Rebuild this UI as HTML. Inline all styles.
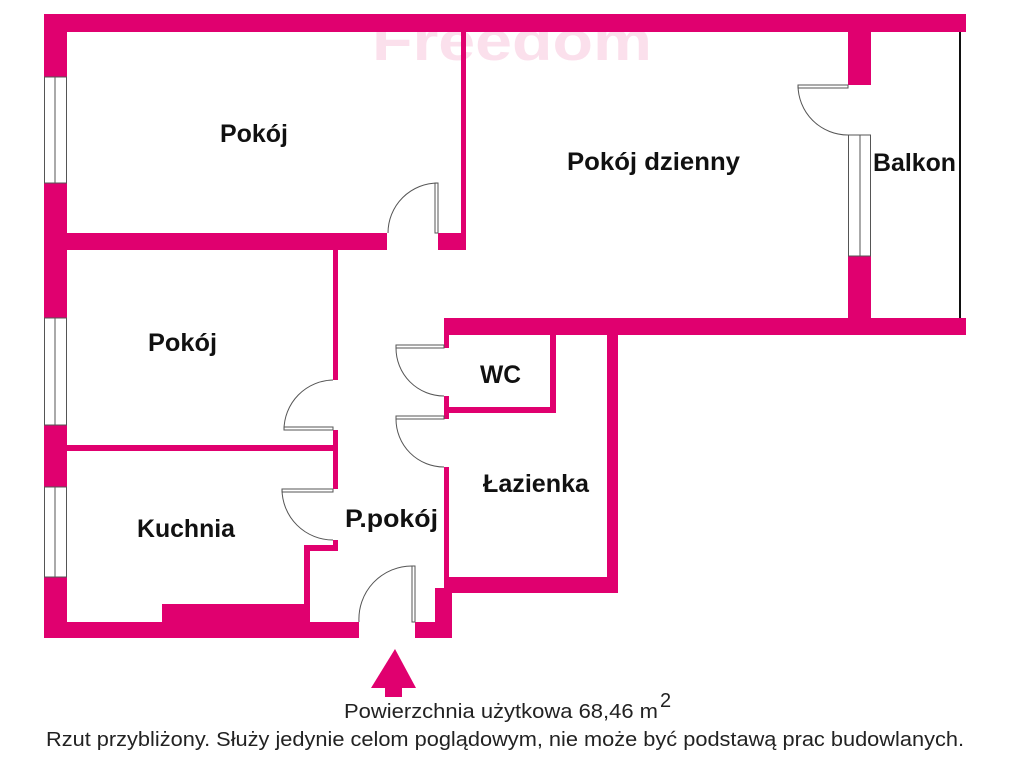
<!DOCTYPE html>
<html><head><meta charset="utf-8"><style>
html,body{margin:0;padding:0;background:#fff;}
svg{display:block;}
.l{font-family:"Liberation Sans",sans-serif;font-weight:bold;font-size:25px;fill:#111;}
.f{font-family:"Liberation Sans",sans-serif;font-size:20px;fill:#222;}
</style></head><body>
<svg width="1024" height="768" viewBox="0 0 1024 768" xmlns="http://www.w3.org/2000/svg">
<text x="372" y="60" textLength="280" lengthAdjust="spacingAndGlyphs" font-family="Liberation Sans,sans-serif" font-weight="bold" font-size="56" fill="#fbe0ec">Freedom</text>
<g fill="#e0006f">
<rect x="44" y="14" width="922" height="18"/>
<rect x="44" y="14" width="23" height="63"/>
<rect x="44" y="183" width="23" height="135"/>
<rect x="44" y="425" width="23" height="62"/>
<rect x="44" y="577" width="23" height="61"/>
<rect x="67" y="233" width="320" height="17"/>
<rect x="438" y="233" width="27" height="17"/>
<rect x="461" y="32" width="5" height="218"/>
<rect x="333" y="250" width="5" height="130"/>
<rect x="333" y="430" width="5" height="59"/>
<rect x="67" y="445" width="266" height="6"/>
<rect x="333" y="540" width="5" height="10"/>
<rect x="304" y="545" width="34" height="6"/>
<rect x="304" y="545" width="6" height="77"/>
<rect x="162" y="604" width="145" height="18"/>
<rect x="44" y="622" width="315" height="16"/>
<rect x="415" y="622" width="37" height="16"/>
<rect x="435" y="588" width="17" height="50"/>
<rect x="444" y="318" width="5" height="30"/>
<rect x="444" y="396" width="5" height="23"/>
<rect x="444" y="467" width="5" height="126"/>
<rect x="444" y="318" width="522" height="17"/>
<rect x="550" y="335" width="6" height="78"/>
<rect x="449" y="407" width="107" height="6"/>
<rect x="607" y="335" width="11" height="258"/>
<rect x="449" y="577" width="169" height="16"/>
<rect x="848" y="32" width="23" height="53"/>
<rect x="848" y="256" width="23" height="62"/>
<polygon points="395,649 371,688 416,688"/>
<rect x="385" y="686" width="17" height="11"/>
</g>
<g fill="none" stroke="#555" stroke-width="1">
<rect x="44.5" y="77" width="22" height="106"/><line x1="55" y1="77" x2="55" y2="183"/>
<rect x="44.5" y="318" width="22" height="107"/><line x1="55" y1="318" x2="55" y2="425"/>
<rect x="44.5" y="487" width="22" height="90"/><line x1="55" y1="487" x2="55" y2="577"/>
<rect x="848.5" y="135" width="22" height="121"/><line x1="860" y1="135" x2="860" y2="256"/>
<rect x="435" y="183" width="3" height="50"/><path d="M438 183 A50 50 0 0 0 388 233"/>
<rect x="798" y="85" width="50" height="3"/><path d="M798 85 A50 50 0 0 0 848 135"/>
<rect x="284" y="427" width="49" height="3"/><path d="M284 430 A50 50 0 0 1 333 380"/>
<rect x="282" y="489" width="51" height="3"/><path d="M282 489 A51 51 0 0 0 333 540"/>
<rect x="396" y="345" width="48" height="3"/><path d="M396 348 A48 48 0 0 0 444 396"/>
<rect x="396" y="416" width="48" height="3"/><path d="M396 419 A48 48 0 0 0 444 467"/>
<rect x="412" y="566" width="3" height="56"/><path d="M412 566 A53 53 0 0 0 359 622"/>
</g>
<line x1="960" y1="32" x2="960" y2="318" stroke="#111" stroke-width="2"/>
<g lengthAdjust="spacingAndGlyphs">
<text class="l" x="220" y="142" textLength="68" lengthAdjust="spacingAndGlyphs">Pokój</text>
<text class="l" x="567" y="170" textLength="173" lengthAdjust="spacingAndGlyphs">Pokój dzienny</text>
<text class="l" x="873" y="171" textLength="83" lengthAdjust="spacingAndGlyphs">Balkon</text>
<text class="l" x="148" y="351" textLength="69" lengthAdjust="spacingAndGlyphs">Pokój</text>
<text class="l" x="480" y="383" textLength="41" lengthAdjust="spacingAndGlyphs">WC</text>
<text class="l" x="483" y="492" textLength="106" lengthAdjust="spacingAndGlyphs">Łazienka</text>
<text class="l" x="137" y="537" textLength="98" lengthAdjust="spacingAndGlyphs">Kuchnia</text>
<text class="l" x="345" y="527" textLength="93" lengthAdjust="spacingAndGlyphs">P.pokój</text>
<text class="f" x="344" y="718" textLength="314" lengthAdjust="spacingAndGlyphs">Powierzchnia użytkowa 68,46 m</text>
<text class="f" x="660" y="707" font-size="13">2</text>
<text class="f" x="46" y="746" textLength="918" lengthAdjust="spacingAndGlyphs">Rzut przybliżony. Służy jedynie celom poglądowym, nie może być podstawą prac budowlanych.</text>
</g>
</svg>
</body></html>
